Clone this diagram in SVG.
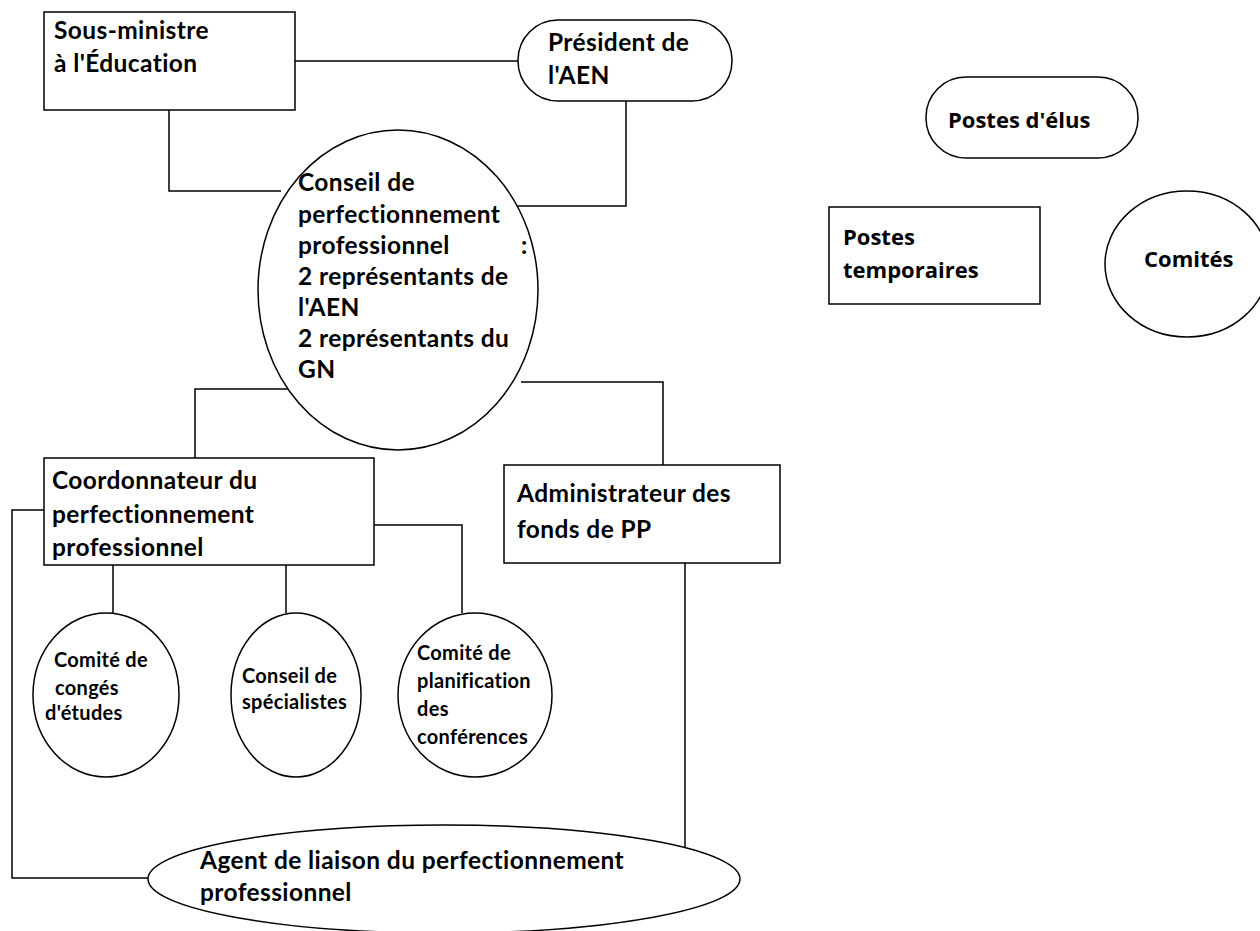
<svg xmlns="http://www.w3.org/2000/svg" width="1260" height="931" viewBox="0 0 1260 931">
<style>
.s{fill:#fff;stroke:#000;stroke-width:1.5}
.c{fill:none;stroke:#000;stroke-width:1.5}
.t{font-family:Lato,"Liberation Sans",sans-serif;font-weight:bold;font-size:24.5px;letter-spacing:0.4px;fill:#000}
.m{font-family:Lato,"Liberation Sans",sans-serif;font-weight:bold;font-size:20px;letter-spacing:0.3px;fill:#000}
.o{font-family:"Open Sans","Liberation Sans",sans-serif;font-weight:bold;font-size:22px;fill:#000}
</style>
<rect width="1260" height="931" fill="#fff"/>
<g id="connectors">
<polyline class="c" points="295,61 518,61"/>
<polyline class="c" points="169,110 169,191 281,191"/>
<polyline class="c" points="626,101 626,206 516,206"/>
<polyline class="c" points="290,389 195,389 195,458"/>
<polyline class="c" points="521,382 663,382 663,465"/>
<polyline class="c" points="113,565 113,613"/>
<polyline class="c" points="286,565 286,613"/>
<polyline class="c" points="374,525 462,525 462,613"/>
<polyline class="c" points="685,563 685,850"/>
<polyline class="c" points="44,510 12,510 12,878 148,878"/>
</g>
<g id="sous-ministre">
<rect class="s" x="44" y="12" width="251" height="98"/>
<text class="t" x="54" y="39">Sous-ministre</text>
<text class="t" x="54" y="72">à l'Éducation</text>
</g>
<g id="president">
<rect class="s" x="518" y="20" width="214" height="81" rx="40" ry="40"/>
<text class="t" x="548" y="51">Président de</text>
<text class="t" x="548" y="84">l'AEN</text>
</g>
<g id="conseil">
<ellipse class="s" cx="398" cy="290" rx="140" ry="160"/>
<text class="t" x="298" y="191">Conseil de</text>
<text class="t" x="298" y="223">perfectionnement</text>
<text class="t" x="298" y="254">professionnel</text>
<text class="t" x="521" y="254">:</text>
<text class="t" x="298" y="285">2 représentants de</text>
<text class="t" x="298" y="316">l'AEN</text>
<text class="t" x="298" y="347">2 représentants du</text>
<text class="t" x="298" y="378">GN</text>
</g>
<g id="coordonnateur">
<rect class="s" x="44" y="458" width="330" height="107"/>
<text class="t" x="52" y="489">Coordonnateur du</text>
<text class="t" x="52" y="523">perfectionnement</text>
<text class="t" x="52" y="556">professionnel</text>
</g>
<g id="administrateur">
<rect class="s" x="504" y="465" width="276" height="98"/>
<text class="t" x="517" y="502">Administrateur des</text>
<text class="t" x="517" y="538">fonds de PP</text>
</g>
<g id="comite-conges">
<ellipse class="s" cx="106" cy="695" rx="73" ry="82"/>
<text class="m" x="54" y="667">Comité de</text>
<text class="m" x="55" y="695">congés</text>
<text class="m" x="45" y="720">d'études</text>
</g>
<g id="conseil-specialistes">
<ellipse class="s" cx="296" cy="695" rx="65" ry="82"/>
<text class="m" x="242" y="683">Conseil de</text>
<text class="m" x="242" y="709">spécialistes</text>
</g>
<g id="comite-planification">
<ellipse class="s" cx="475" cy="695" rx="77" ry="82"/>
<text class="m" x="417" y="660">Comité de</text>
<text class="m" x="417" y="688">planification</text>
<text class="m" x="417" y="716">des</text>
<text class="m" x="417" y="744">conférences</text>
</g>
<g id="agent">
<ellipse class="s" cx="444" cy="879" rx="296" ry="54"/>
<text class="t" x="200" y="869">Agent de liaison du perfectionnement</text>
<text class="t" x="200" y="901">professionnel</text>
</g>
<g id="postes-elus">
<rect class="s" x="926" y="77" width="212" height="81" rx="40" ry="40"/>
<text class="o" x="948" y="128">Postes d'élus</text>
</g>
<g id="postes-temporaires">
<rect class="s" x="829" y="207" width="211" height="97"/>
<text class="o" x="843" y="245">Postes</text>
<text class="o" x="843" y="278">temporaires</text>
</g>
<g id="comites">
<ellipse class="s" cx="1187" cy="264" rx="82" ry="73"/>
<text class="o" x="1144" y="267">Comités</text>
</g>
</svg>
